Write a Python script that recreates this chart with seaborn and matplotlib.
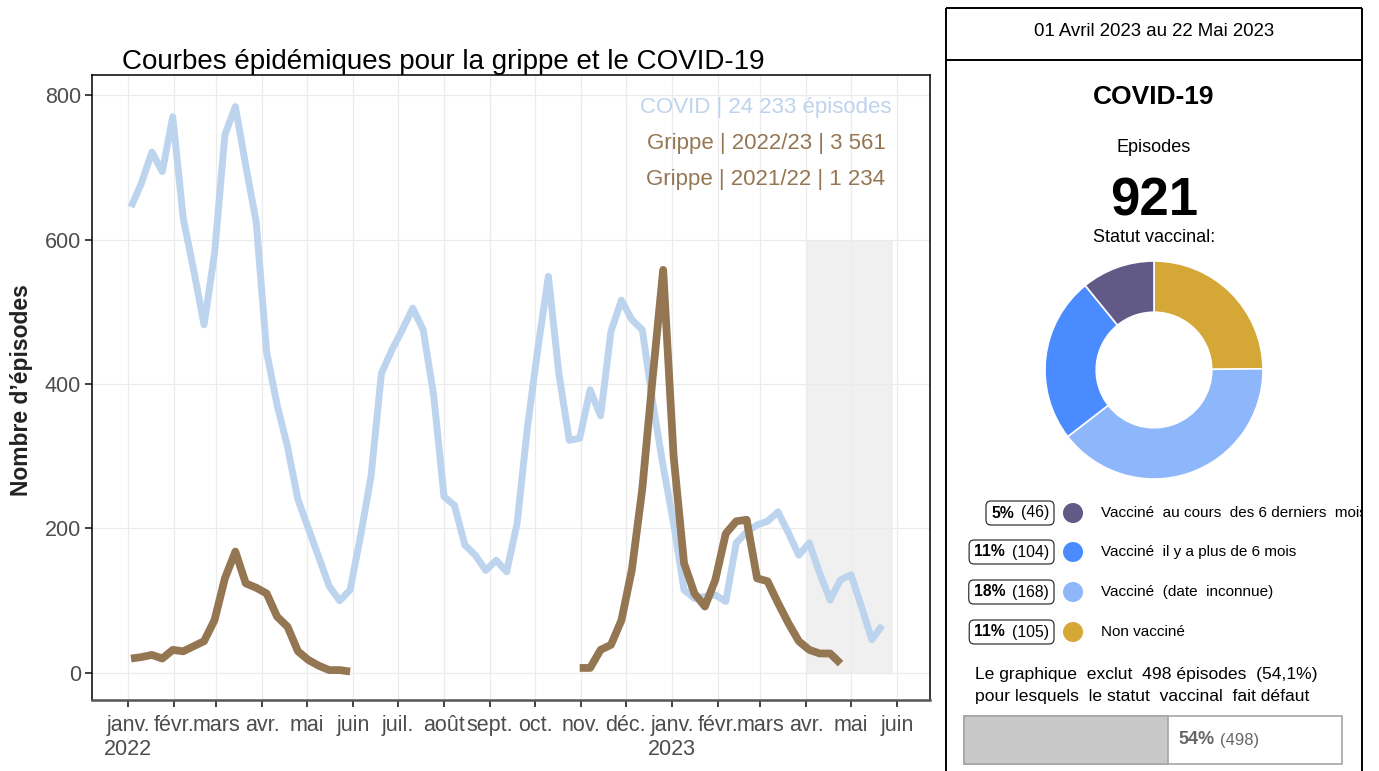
import numpy as np
import pandas as pd
import matplotlib
matplotlib.use("Agg")
import matplotlib.pyplot as plt
import matplotlib.dates as mdates
import seaborn as sns
from matplotlib.patches import Rectangle, FancyBboxPatch, Circle

# ---------------- data ----------------
covid_start = "2022-01-03"
covid_values = [645, 678, 721, 694, 770, 630, 558, 482, 580, 745,
                784, 702, 624, 444, 371, 313, 240, 200, 160, 120,
                100, 115, 190, 272, 415, 447, 475, 505, 475, 385,
                244, 232, 177, 163, 142, 156, 140, 207, 341, 450,
                549, 415, 322, 325, 392, 356, 473, 516, 489, 475,
                374, 286, 207, 115, 103, 106, 108, 99, 180, 195,
                205, 210, 223, 194, 163, 180, 138, 101, 129, 136,
                92, 46, 66]
flu2122_start = "2022-01-03"
flu2122_values = [20, 22, 25, 20, 32, 30, 37, 44, 73, 131, 168, 124, 118, 110,
                  78, 64, 30, 18, 10, 4, 4, 2]
flu2223_start = "2022-10-31"
flu2223_values = [7, 7, 32, 39, 73, 143, 255, 410, 558, 300, 152, 110, 92, 129,
                  193, 210, 212, 131, 127, 97, 69, 44, 32, 27, 27, 13]

series_names = ["COVID", "Grippe 2022/23", "Grippe 2021/22"]
series_colors = ["#BDD4EE", "#957652", "#957652"]
legend_labels = ["COVID | 24 233 épisodes", "Grippe | 2022/23 | 3 561", "Grippe | 2021/22 | 1 234"]

title = "Courbes épidémiques pour la grippe et le COVID-19"
ylabel = "Nombre d\u2019épisodes"
month_ticks = list(pd.date_range("2022-01-01", "2023-06-01", freq="MS"))
month_labels = ["janv.\n2022", "févr.", "mars", "avr.", "mai", "juin", "juil.", "août",
                "sept.", "oct.", "nov.", "déc.", "janv.\n2023", "févr.", "mars", "avr.",
                "mai", "juin"]
y_ticks = [0, 200, 400, 600, 800]
shade_start, shade_end, shade_top = "2023-04-01", "2023-05-29", 600

period_text = "01 Avril 2023 au 22 Mai 2023"
panel_title = "COVID-19"
total_episodes = 921
vacc_labels = ["Vacciné  au cours  des 6 derniers  mois", "Vacciné  il y a plus de 6 mois",
               "Vacciné  (date  inconnue)", "Non vacciné"]
vacc_counts = [46, 104, 168, 105]
vacc_pct = [5, 11, 18, 11]
vacc_colors = ["#615A87", "#4A8CFF", "#8DB6FB", "#D4A737"]
missing_count = 498
missing_pct_text = "54,1%"
missing_pct = 54

# ---------------- figure ----------------
W, H, DPI = 1379, 771, 100
sns.set_theme(style="white")
plt.rcParams["font.family"] = ["Liberation Sans", "DejaVu Sans"]
plt.rcParams["text.color"] = "black"

fig = plt.figure(figsize=(W / DPI, H / DPI), dpi=DPI)
fig.patch.set_facecolor("white")

def px_axes(l, t, r, b):
    return [l / W, 1 - b / H, (r - l) / W, (b - t) / H]

ax = fig.add_axes(px_axes(92, 75, 930, 700))

frames = []
for name, start, vals in [("COVID", covid_start, covid_values),
                          ("Grippe 2022/23", flu2223_start, flu2223_values),
                          ("Grippe 2021/22", flu2122_start, flu2122_values)]:
    frames.append(pd.DataFrame({"date": pd.date_range(start, periods=len(vals), freq="7D"),
                                "n": vals, "serie": name}))
df = pd.concat(frames, ignore_index=True)

# shaded period
x0 = mdates.date2num(pd.Timestamp(shade_start))
x1 = mdates.date2num(pd.Timestamp(shade_end))
ax.add_patch(Rectangle((x0, 0), x1 - x0, shade_top, facecolor="#F0F0F0", edgecolor="none", zorder=0.5))

sns.lineplot(data=df, x="date", y="n", hue="serie", hue_order=series_names,
             palette=dict(zip(series_names, series_colors)), linewidth=5,
             legend=False, ax=ax, estimator=None, zorder=3)
for ln in ax.get_lines():
    ln.set_solid_capstyle("butt")
    ln.set_solid_joinstyle("round")
    if ln.get_color().lower() != series_colors[0].lower():
        ln.set_linewidth(5.6)

ax.set_xlim(pd.Timestamp("2021-12-07 20:00"), pd.Timestamp("2023-06-23"))
ax.set_ylim(-37.4, 827.7)
ax.set_xticks(month_ticks)
ax.set_xticklabels(month_labels)
ax.set_yticks(y_ticks)
ax.set_xlabel("")
ax.set_ylabel("")
ax.grid(True, color="#EBEBEB", linewidth=0.9)
ax.set_axisbelow(True)
ax.tick_params(axis="both", length=5, width=1.3, color="#333333", labelsize=15.5,
               labelcolor="#4D4D4D", direction="out", bottom=True, left=True)
ax.tick_params(axis="x", pad=6)
ax.tick_params(axis="y", pad=3)
for s in ["left", "top", "right"]:
    ax.spines[s].set_color("black")
    ax.spines[s].set_linewidth(1.1)
ax.spines["bottom"].set_color("#555555")
ax.spines["bottom"].set_linewidth(1.8)
for lab in ax.get_xticklabels():
    lab.set_linespacing(1.2)

# legend-like annotations
leg_y = [107, 144, 180]
for lab, yy, c in zip(legend_labels, leg_y, series_colors):
    fig.text(766 / W, 1 - yy / H, lab, color=c, fontsize=16, ha="center", va="center")

fig.text(122 / W, 1 - 62 / H, title, fontsize=20, ha="left", va="center", color="black")
fig.text(22 / W, 1 - 390 / H, ylabel, fontsize=16.5, fontweight="bold", rotation=90,
         ha="center", va="center", color="#222222")

# ---------------- right panel ----------------
PL, PR = 946, 1362
ap = fig.add_axes([PL / W, 0, (PR - PL) / W, 1])
ap.set_xlim(PL, PR)
ap.set_ylim(H, 0)
ap.axis("off")

lk = dict(color="black", linewidth=1.4, clip_on=False, solid_capstyle="butt")
ap.plot([PL, PL], [8, H + 5], **lk)
ap.plot([PR, PR], [8, H + 5], **lk)
ap.plot([PL, PR], [8, 8], **lk)
ap.plot([PL, PR], [60, 60], **lk)

cx = (PL + PR) / 2
ap.text(cx, 32, period_text, fontsize=13.4, ha="center", va="center")
ap.text(cx, 97, panel_title, fontsize=19, fontweight="bold", ha="center", va="center")
ap.text(cx, 148, "Episodes", fontsize=13, ha="center", va="center")
ap.text(cx, 201, f"{total_episodes}", fontsize=38, fontweight="bold", ha="center", va="center")
ap.text(cx, 238, "Statut vaccinal:", fontsize=13, ha="center", va="center")

# donut
R = 109
axd = fig.add_axes(px_axes(1154 - R, 370 - R, 1154 + R, 370 + R))
axd.pie(vacc_counts[::-1], colors=vacc_colors[::-1], startangle=90, counterclock=False,
        radius=1, wedgeprops=dict(width=0.47, edgecolor="white", linewidth=1.2))
axd.set_xlim(-1.0, 1.0)
axd.set_ylim(-1.0, 1.0)
axd.set_aspect("equal")
axd.axis("off")

fig.canvas.draw()
renderer = fig.canvas.get_renderer()

row_y = [513, 552, 592, 632]
for lab, cnt, pct, col, yy in zip(vacc_labels, vacc_counts, vacc_pct, vacc_colors, row_y):
    t2 = ap.text(1049, yy, f"({cnt})", fontsize=11.3, ha="right", va="center")
    w2 = t2.get_window_extent(renderer).width
    t1 = ap.text(1049 - w2 - 7, yy, f"{pct}%", fontsize=11.3, fontweight="bold", ha="right", va="center")
    w1 = t1.get_window_extent(renderer).width
    left = 1049 - w2 - 7 - w1 - 5
    ap.add_patch(FancyBboxPatch((left, yy - 12), 1054 - left, 24,
                                boxstyle="round,pad=0,rounding_size=5",
                                facecolor="white", edgecolor="#333333", linewidth=0.9))
    ap.add_patch(Circle((1073, yy), 10, facecolor=col, edgecolor="none"))
    ap.text(1101, yy, lab, fontsize=11, ha="left", va="center", clip_on=True)

ap.text(975, 675, f"Le graphique  exclut  {missing_count} épisodes  ({missing_pct_text})",
        fontsize=12.6, ha="left", va="center")
ap.text(975, 696, "pour lesquels  le statut  vaccinal  fait défaut",
        fontsize=12.6, ha="left", va="center")

bx, by, bw, bh = 964, 716, 378, 48
ap.add_patch(Rectangle((bx, by), bw, bh, facecolor="white", edgecolor="#A6A6A6", linewidth=1.2))
ap.add_patch(Rectangle((bx, by), bw * missing_pct / 100, bh, facecolor="#C8C8C8",
                       edgecolor="#A6A6A6", linewidth=1.2))
tp = ap.text(bx + bw * missing_pct / 100 + 10, by + bh / 2, f"{missing_pct}%", fontsize=13,
             fontweight="bold", color="#666666", ha="left", va="center")
wp = tp.get_window_extent(renderer).width
ap.text(bx + bw * missing_pct / 100 + 10 + wp + 6, by + bh / 2, f"({missing_count})",
        fontsize=12, color="#666666", ha="left", va="center")

fig.savefig("out.png", dpi=DPI, facecolor="white")
